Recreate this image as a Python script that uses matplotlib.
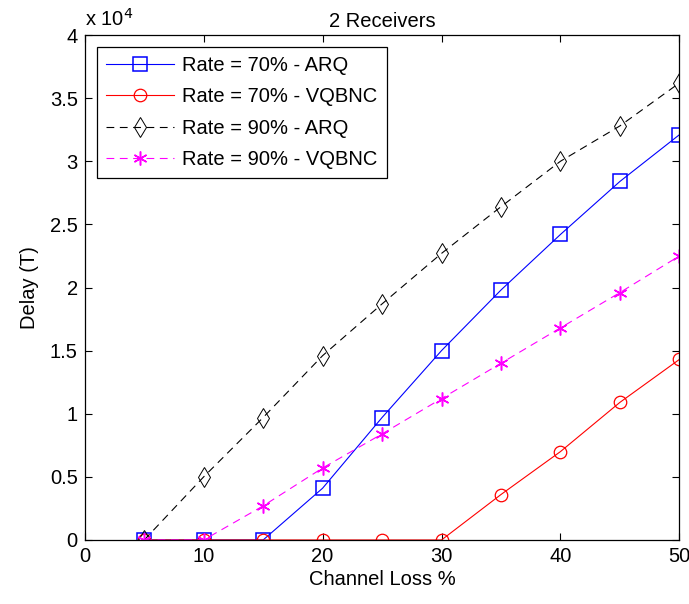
import numpy as np
import matplotlib
matplotlib.use("Agg")
import matplotlib.pyplot as plt
from matplotlib.ticker import FuncFormatter

# channel loss (%) and delay values
loss = [5, 10, 15, 20, 25, 30, 35, 40, 45, 50]
arq70 = [0, 0, 0, 4100, 9700, 15000, 19800, 24200, 28400, 32100]
vqbnc70 = [0, 0, 0, 0, 0, 0, 3600, 7000, 10900, 14300]
arq90 = [0, 5000, 9700, 14600, 18700, 22700, 26400, 30000, 32800, 36200]
vqbnc90 = [0, 0, 2700, 5700, 8400, 11200, 14000, 16800, 19600, 22500]
labels = ['Rate = 70% - ARQ', 'Rate = 70% - VQBNC',
          'Rate = 90% - ARQ', 'Rate = 90% - VQBNC']

plt.rcParams['font.family'] = ['Liberation Sans', 'DejaVu Sans']
fs = 14.5

fig = plt.figure(figsize=(6.89, 6.04), dpi=100)
ax = fig.add_axes([0.123, 0.106, 0.863, 0.836])

ax.plot(loss, arq70, '-', color='blue', lw=0.8, marker='s', ms=9.5,
        mfc='none', mec='blue', mew=1.1, label=labels[0])
ax.plot(loss, vqbnc70, '-', color='red', lw=0.8, marker='o', ms=9,
        mfc='none', mec='red', mew=0.9, label=labels[1])
ax.plot(loss, arq90, '--', color='black', lw=0.8, marker='d', ms=10,
        mfc='none', mec='black', mew=0.7, dashes=(7, 5), label=labels[2])
ax.plot(loss, vqbnc90, '--', color='magenta', lw=0.8, marker=(6, 2, 0), ms=10,
        mfc='magenta', mec='magenta', mew=1.1, dashes=(7, 5), label=labels[3])

ax.set_xlim(0, 50)
ax.set_ylim(0, 40000)
ax.set_xticks(np.arange(0, 51, 10))
ax.set_yticks(np.arange(0, 40001, 5000))
ax.yaxis.set_major_formatter(FuncFormatter(lambda v, p: '%g' % (v / 1e4)))
ax.tick_params(direction='in', top=True, right=True, length=5, width=0.8,
               labelsize=fs, pad=5)
for s in ax.spines.values():
    s.set_linewidth(0.9)

ax.set_xlabel('Channel Loss %', fontsize=fs, labelpad=3)
ax.set_ylabel('Delay (T)', fontsize=fs, labelpad=8)
ax.set_title('2 Receivers', fontsize=fs, pad=6)
ax.text(0.0, 1.01, 'x 10$^4$', transform=ax.transAxes, ha='left', va='bottom',
        fontsize=fs)

leg = ax.legend(loc='upper left', bbox_to_anchor=(0.003, 0.997), fancybox=False,
                edgecolor='black', framealpha=1, handlelength=3.4,
                borderpad=0.45, labelspacing=0.62, handletextpad=0.4,
                fontsize=fs)
leg.get_frame().set_linewidth(0.9)

fig.savefig('out.png', dpi=100)
